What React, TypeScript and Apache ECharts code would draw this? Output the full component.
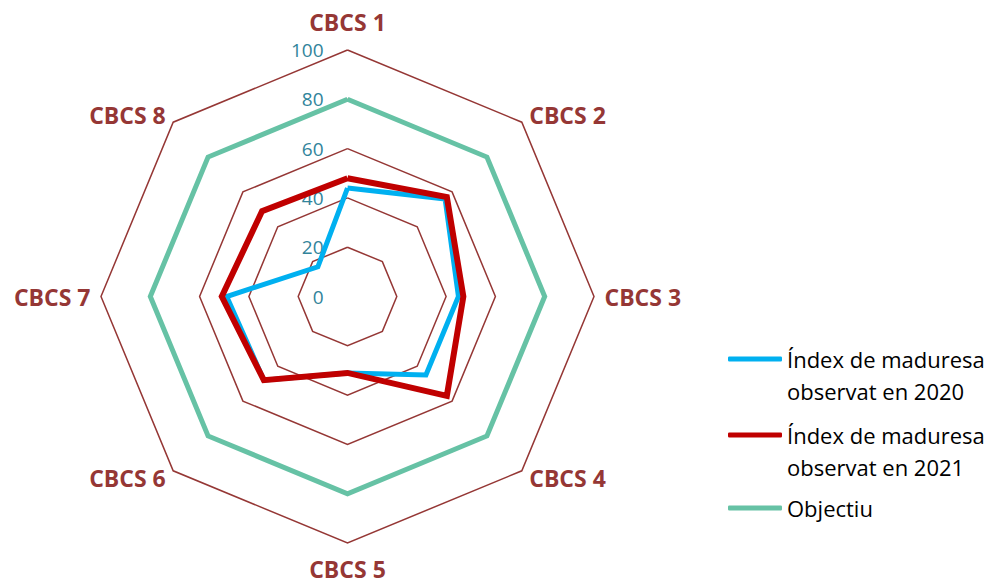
import React, { useEffect, useRef } from "react";
import * as echarts from "echarts";

const categories = ["CBCS 1", "CBCS 2", "CBCS 3", "CBCS 4", "CBCS 5", "CBCS 6", "CBCS 7", "CBCS 8"];
const values2020 = [44, 56, 45, 45, 31, 48, 49, 17];
const values2021 = [48, 57, 47, 57, 31, 48, 51, 49];
const objectiu = [80, 80, 80, 80, 80, 80, 80, 80];
const seriesNames = [
  "Índex de maduresa\nobservat en 2020",
  "Índex de maduresa\nobservat en 2021",
  "Objectiu",
];
const seriesColors = ["#00B0F0", "#C00000", "#66C2A5"];
const axisMax = 100;

// ECharts lays indicators counter-clockwise; the reference runs clockwise.
const order = categories.map((_, i) => (i === 0 ? 0 : categories.length - i));

const legendText = {
  fontFamily: "Open Sans",
  fontSize: 22,
  lineHeight: 32,
  color: "#000",
  rich: {
    t: { fontFamily: "Open Sans", fontSize: 22, lineHeight: 32, color: "#000" },
    sp: { fontFamily: "Open Sans", fontSize: 22, lineHeight: 32, color: "rgba(0,0,0,0)" },
  },
};

export default function App() {
  const ref = useRef<HTMLDivElement>(null);
  useEffect(() => {
    if (!ref.current) return;
    const chart = echarts.init(ref.current, undefined, { renderer: "svg" });
    const reorder = (arr: number[]) => order.map((i) => arr[i]);
    const indicator = order.map((i) => ({
      name: categories[i],
      min: 0,
      max: axisMax,
      nameGap: i === 0 ? 16.5 : i === 4 ? 14 : 10.5,
      axisLabel: { show: i === 0 },
    }));
    const allValues = [values2020, values2021, objectiu];
    const legendBase = {
      orient: "vertical",
      left: 728,
      padding: 0,
      itemWidth: 54,
      itemHeight: 5,
      icon: "roundRect",
      textStyle: legendText,
    };
    chart.setOption({
      animation: false,
      textStyle: { fontFamily: "Open Sans" },
      color: seriesColors,
      legend: [
        {
          ...legendBase,
          top: 311,
          itemGap: -20,
          data: seriesNames.slice(0, 2),
          formatter: (name: string) => {
            const body = name
              .split("\n")
              .map((l) => `{t|${l}}`)
              .join("\n");
            // spacer line keeps the legend line level with the first text line
            return `{sp| }\n${body}`;
          },
        },
        {
          ...legendBase,
          top: 492,
          data: seriesNames.slice(2),
        },
      ],
      radar: {
        center: [347.5, 296.5],
        radius: 246.5,
        shape: "polygon",
        splitNumber: 5,
        indicator,
        axisName: {
          color: "#953735",
          fontFamily: "Open Sans",
          fontWeight: "bold",
          fontSize: 23,
        },
        axisLine: { show: false },
        axisTick: { show: false },
        axisLabel: {
          show: false,
          color: "#31849B",
          fontFamily: "Open Sans",
          fontSize: 19,
          margin: 24,
        },
        splitLine: { lineStyle: { color: "#953735", width: 1.5 } },
        splitArea: { show: false },
      },
      series: allValues.map((vals, si) => ({
        type: "radar",
        name: seriesNames[si],
        symbol: "none",
        z: 2 + si,
        itemStyle: { color: seriesColors[si] },
        lineStyle: { color: seriesColors[si], width: si === 1 ? 6 : 5, join: "miter" },
        data: [{ value: reorder(vals), name: seriesNames[si] }],
      })),
    });
    return () => chart.dispose();
  }, []);
  return (
    <div
      ref={ref}
      style={{ position: "fixed", left: 0, top: 0, width: 991, height: 583, background: "#fff" }}
    />
  );
}
